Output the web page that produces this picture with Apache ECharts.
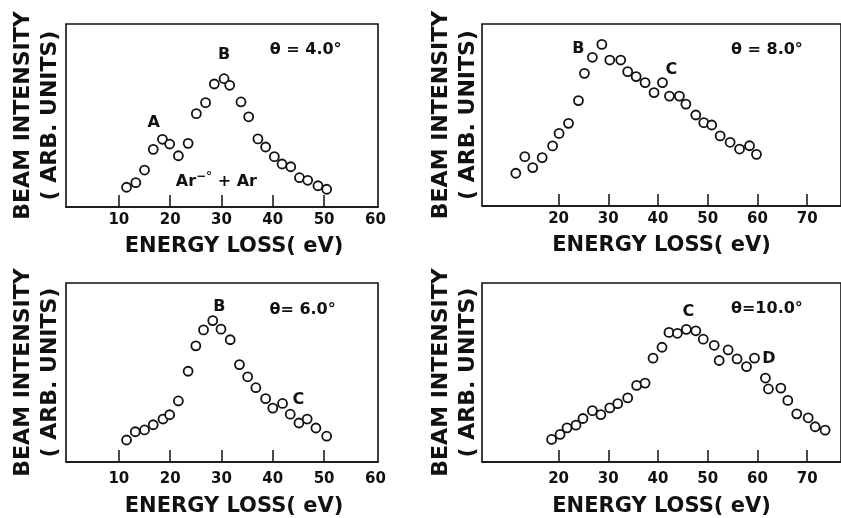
<!DOCTYPE html>
<html>
<head>
<meta charset="utf-8">
<script src="https://cdn.jsdelivr.net/npm/echarts@6/dist/echarts.min.js"></script>
<style>
  html, body { margin: 0; padding: 0; background: #fff; }
  #main { width: 841px; height: 518px; }
</style>
</head>
<body>
<div id="main"></div>
<script>
// energy loss spectra, 4 angles (intensity in arbitrary units, 0-100 = box height)
var x4 = [11.5, 13.3, 15.0, 16.7, 18.5, 19.9, 21.6, 23.5, 25.1, 26.9, 28.6, 30.5, 31.6, 33.8, 35.3, 37.1, 38.6, 40.3, 41.8, 43.5, 45.2, 46.8, 48.8, 50.5];
var y4 = [10.8, 13.3, 20.2, 31.5, 37.0, 34.4, 28.0, 34.8, 51.0, 57.0, 67.2, 70.1, 66.5, 57.4, 49.3, 37.2, 32.8, 27.5, 23.5, 22.0, 16.0, 14.6, 11.6, 9.7];

var x8 = [11.4, 13.2, 14.8, 16.7, 18.8, 20.1, 22.0, 24.0, 25.2, 26.8, 28.7, 30.3, 32.5, 33.9, 35.6, 37.4, 39.2, 40.9, 42.3, 44.3, 45.6, 47.6, 49.2, 50.8, 52.5, 54.5, 56.4, 58.4, 59.8];
var y8 = [18.0, 27.1, 21.1, 26.6, 33.0, 39.9, 45.4, 57.9, 72.9, 81.7, 88.8, 80.2, 80.2, 73.8, 71.1, 67.8, 62.3, 67.8, 60.4, 60.4, 56.0, 50.0, 45.8, 44.5, 38.5, 35.0, 31.3, 33.1, 28.4];

var x6 = [11.5, 13.2, 15.0, 16.7, 18.6, 19.9, 21.6, 23.5, 25.0, 26.5, 28.3, 29.9, 31.7, 33.5, 35.1, 36.7, 38.6, 40.0, 41.9, 43.4, 45.1, 46.7, 48.4, 50.5];
var y6 = [12.3, 16.9, 17.9, 20.8, 24.0, 26.4, 34.1, 50.7, 64.9, 73.8, 79.0, 74.2, 68.3, 54.4, 47.6, 41.5, 35.4, 30.1, 32.7, 26.7, 21.8, 24.0, 19.0, 14.4];

var x10 = [18.6, 20.3, 21.7, 23.5, 24.9, 26.8, 28.5, 30.3, 31.9, 33.9, 35.7, 37.4, 39.0, 40.8, 42.2, 43.9, 45.7, 47.6, 49.1, 51.3, 52.3, 54.1, 55.9, 57.8, 59.4, 61.6, 62.2, 64.7, 66.1, 67.9, 70.2, 71.6, 73.6];
var y10 = [12.6, 15.4, 19.1, 20.6, 24.3, 28.7, 26.5, 30.2, 32.6, 35.8, 42.8, 44.1, 58.0, 64.1, 72.4, 71.9, 74.1, 73.3, 68.6, 65.2, 56.7, 62.6, 57.6, 53.3, 58.0, 46.9, 40.8, 41.3, 34.4, 26.9, 24.7, 19.7, 17.8];

// tick labels
var ticksLeft = [10, 20, 30, 40, 50];
var labelsLeft = [10, 20, 30, 40, 50, 60];
var ticksRight = [20, 30, 40, 50, 60, 70];

// annotations [x, y, text]
var notes4 = [[16.8, 46, 'A'], [30.5, 83, 'B'], [46.4, 86, 'θ = 4.0°'], [29.0, 14, 'Ar{s|−°} + Ar']];
var notes8 = [[24.0, 86.6, 'B'], [42.7, 74.7, 'C'], [61.9, 85.7, 'θ = 8.0°']];
var notes6 = [[29.6, 86.7, 'B'], [45.0, 35, 'C'], [45.8, 85, 'θ= 6.0°']];
var notes10 = [[46.1, 83.9, 'C'], [62.3, 57.6, 'D'], [61.9, 85.7, 'θ=10.0°']];

var ink = '#111';
var font = 'DejaVu Sans';

function zip(xs, ys) {
    var out = [];
    for (var i = 0; i < xs.length; i++) {
        out.push([xs[i], ys[i]]);
    }
    return out;
}

var panels = [
    {x: x4, y: y4, notes: notes4, grid: {left: 66, top: 24, width: 312, height: 183}, min: -0.3, max: 60.5, ticks: ticksLeft, labels: labelsLeft, yGap: 2, xGap: 29, lblGap: 6, shift: 24},
    {x: x8, y: y8, notes: notes8, grid: {left: 482, top: 24, width: 363, height: 182}, min: 4.6, max: 76.8, ticks: ticksRight, labels: ticksRight, yGap: 0, xGap: 29, lblGap: 6, shift: 0},
    {x: x6, y: y6, notes: notes6, grid: {left: 66, top: 283, width: 312, height: 180}, min: -0.3, max: 60.5, ticks: ticksLeft, labels: labelsLeft, yGap: 2, xGap: 34, lblGap: 10, shift: 24},
    {x: x10, y: y10, notes: notes10, grid: {left: 482, top: 283, width: 363, height: 180}, min: 4.6, max: 76.8, ticks: ticksRight, labels: ticksRight, yGap: 0, xGap: 34, lblGap: 10, shift: 0}
];

var option = {
    backgroundColor: '#fff',
    animation: false,
    grid: [],
    xAxis: [],
    yAxis: [],
    series: []
};

for (var p = 0; p < panels.length; p++) {
    var pan = panels[p];
    option.grid.push({
        left: pan.grid.left, top: pan.grid.top, width: pan.grid.width, height: pan.grid.height,
        show: true, borderColor: ink, borderWidth: 1.6, backgroundColor: 'transparent'
    });
    option.xAxis.push({
        gridIndex: p, type: 'value', min: pan.min, max: pan.max,
        name: 'ENERGY LOSS( eV)', nameLocation: 'middle', nameGap: pan.xGap,
        nameTextStyle: {color: ink, fontFamily: font, fontSize: 21, fontWeight: 'bold', padding: [0, 0, 0, pan.shift]},
        axisLine: {show: true, lineStyle: {color: ink, width: 1.6}},
        axisTick: {show: true, inside: true, length: 12, customValues: pan.ticks, lineStyle: {color: ink, width: 1.5}},
        axisLabel: {show: true, margin: pan.lblGap, customValues: pan.labels, color: ink, fontFamily: font, fontSize: 15, fontWeight: 'bold'},
        splitLine: {show: false}
    });
    option.yAxis.push({
        gridIndex: p, type: 'value', min: 0, max: 100,
        name: 'BEAM INTENSITY\n( ARB. UNITS)', nameLocation: 'middle', nameRotate: 90, nameGap: pan.yGap,
        nameTextStyle: {color: ink, fontFamily: font, fontSize: 22, fontWeight: 'bold', lineHeight: 27},
        axisLine: {show: false}, axisTick: {show: false}, axisLabel: {show: false}, splitLine: {show: false}
    });
    option.series.push({
        type: 'scatter', xAxisIndex: p, yAxisIndex: p,
        data: zip(pan.x, pan.y),
        symbol: 'circle', symbolSize: 9,
        itemStyle: {color: '#fff', borderColor: ink, borderWidth: 1.8, opacity: 1}
    });
    option.series.push({
        type: 'scatter', xAxisIndex: p, yAxisIndex: p,
        data: pan.notes, symbolSize: 0, silent: true,
        itemStyle: {opacity: 1},
        label: {
            show: true, position: 'inside', color: ink, opacity: 1, fontFamily: font, fontSize: 16, fontWeight: 'bold',
            formatter: function (d) { return d.data[2]; },
            rich: {s: {fontSize: 12, fontWeight: 'bold', verticalAlign: 'top', padding: [0, 0, 10, 0], color: ink, fontFamily: font}}
        }
    });
}

var myChart = echarts.init(document.getElementById('main'));
myChart.setOption(option);
</script>
</body>
</html>
